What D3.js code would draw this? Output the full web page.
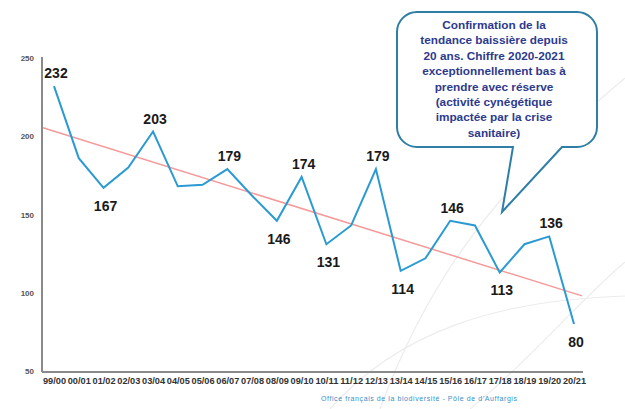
<!DOCTYPE html>
<html lang="fr">
<head>
  <meta charset="UTF-8">
  <title>Tendance</title>
  <style>
    html, body { margin: 0; padding: 0; background: #fff; }
    svg { display: block; font-family: "Liberation Sans", Arial, sans-serif; }
    .tick text { font-weight: bold; }
  </style>
</head>
<body>
  <div id="app"></div>
  <script src="https://cdn.jsdelivr.net/npm/d3@7"></script>
  <script>
    const seasons = ['99/00', '00/01', '01/02', '02/03', '03/04', '04/05', '05/06', '06/07', '07/08', '08/09', '09/10',
      '10/11', '11/12', '12/13', '13/14', '14/15', '15/16', '16/17', '17/18', '18/19', '19/20', '20/21']
    const values = [232, 186, 167, 180, 203, 168, 169, 179, 162, 146, 174, 131, 143, 179, 114, 122, 146, 143, 113, 131, 136, 80]
    // labelled points : 1 = above, -1 = below
    const labelled = [1, 0, -1, 0, 1, 0, 0, 1, 0, -1, 1, -1, 0, 1, -1, 0, 1, 0, -1, 0, 1, -1]
    const yTicks = [50, 100, 150, 200, 250]
    // trend line, value at first and last season
    const trendValues = [203.2, 99.6]
    const calloutLines = [
      'Confirmation de la',
      'tendance baissière depuis',
      '20 ans. Chiffre 2020-2021',
      'exceptionnellement bas  à',
      'prendre avec réserve',
      '(activité cynégétique',
      'impactée par la crise',
      'sanitaire)'
    ]
    const footer = 'Office français de la biodiversité  -  Pôle de d\u2019Auffargis'

    const W = 625, H = 409
    const plotLeft = 42, plotRight = 583, plotTop = 57, plotBottom = 372

    const svg = d3.select('#app').append('svg')
      .attr('width', W)
      .attr('height', H)

    // faint decorative arcs
    const deco = svg.append('g').attr('fill', 'none').attr('stroke', '#ececec').attr('stroke-width', 1.2)
    deco.append('path').attr('d', 'M380,409 C420,300 480,200 625,78')
    deco.append('path').attr('d', 'M330,409 C400,330 500,300 625,296')
    deco.append('path').attr('d', 'M470,409 C530,360 580,300 625,262')

    const x = d3.scaleLinear().domain([0, seasons.length - 1]).range([54, 574])
    const y = d3.scaleLinear().domain([50, 250]).range([371, 58])

    // y axis
    const yAxis = svg.append('g')
      .attr('transform', `translate(${plotLeft - 8},0)`)
      .call(d3.axisLeft(y).tickValues(yTicks).tickSize(0).tickPadding(0))
    yAxis.select('.domain').remove()
    yAxis.selectAll('text').attr('font-size', 8).attr('fill', '#555')
      .attr('font-family', '"Liberation Sans", Arial, sans-serif')

    // x axis labels
    const xAxis = svg.append('g')
      .attr('transform', `translate(0,${plotBottom + 4})`)
      .call(d3.axisBottom(x).tickValues(d3.range(seasons.length)).tickFormat(i => seasons[i]).tickSize(0).tickPadding(2))
    xAxis.select('.domain').remove()
    xAxis.selectAll('text').attr('font-size', 8.3).attr('fill', '#333')
      .attr('font-family', '"Liberation Sans", Arial, sans-serif')
      .attr('textLength', 23).attr('lengthAdjust', 'spacingAndGlyphs')

    // axis lines
    svg.append('line')
      .attr('x1', plotLeft).attr('x2', plotLeft).attr('y1', plotTop).attr('y2', plotBottom)
      .attr('stroke', '#8a8a8a').attr('stroke-width', 2)
    svg.append('line')
      .attr('x1', plotLeft).attr('x2', plotRight).attr('y1', plotBottom).attr('y2', plotBottom)
      .attr('stroke', '#8a8a8a').attr('stroke-width', 2)

    // trend line (linear, extended a little on both sides)
    const last = seasons.length - 1
    const slope = (trendValues[1] - trendValues[0]) / last
    const t0 = x.invert(plotLeft + 1), t1 = x.invert(plotRight - 1)
    svg.append('line')
      .attr('x1', x(t0)).attr('y1', y(trendValues[0] + slope * t0))
      .attr('x2', x(t1)).attr('y2', y(trendValues[0] + slope * t1))
      .attr('stroke', '#f59a9a').attr('stroke-width', 1.5)

    // main series
    svg.append('path')
      .datum(values)
      .attr('fill', 'none')
      .attr('stroke', '#2b9ad3')
      .attr('stroke-width', 2)
      .attr('stroke-linejoin', 'miter')
      .attr('d', d3.line().x((d, i) => x(i)).y(d => y(d)))

    // data labels
    svg.append('g').selectAll('text')
      .data(values.map((v, i) => ({ v, i, pos: labelled[i] })).filter(d => d.pos !== 0))
      .enter()
      .append('text')
      .attr('x', d => x(d.i) + 2)
      .attr('y', d => d.pos > 0 ? y(d.v) - 8 : y(d.v) + 23)
      .attr('text-anchor', 'middle')
      .attr('font-size', 14)
      .attr('font-weight', 'bold')
      .attr('fill', '#1a1a1a')
      .text(d => d.v)

    // callout bubble
    const bx0 = 397, bx1 = 597, by0 = 12, by1 = 147, r = 20
    const tail = [513, 562, 502, 212]
    const bubble = d3.path()
    bubble.moveTo(bx0 + r, by0)
    bubble.lineTo(bx1 - r, by0)
    bubble.arcTo(bx1, by0, bx1, by0 + r, r)
    bubble.lineTo(bx1, by1 - r)
    bubble.arcTo(bx1, by1, bx1 - r, by1, r)
    bubble.lineTo(tail[1], by1)
    bubble.lineTo(tail[2], tail[3])
    bubble.lineTo(tail[0], by1)
    bubble.lineTo(bx0 + r, by1)
    bubble.arcTo(bx0, by1, bx0, by1 - r, r)
    bubble.lineTo(bx0, by0 + r)
    bubble.arcTo(bx0, by0, bx0 + r, by0, r)
    bubble.closePath()
    svg.append('path')
      .attr('d', bubble.toString())
      .attr('fill', '#fff')
      .attr('stroke', '#2f7ea6')
      .attr('stroke-width', 2)

    svg.append('g').selectAll('text')
      .data(calloutLines)
      .enter()
      .append('text')
      .attr('x', 494)
      .attr('y', (d, i) => 29 + i * 15.4)
      .attr('text-anchor', 'middle')
      .attr('font-size', 11.8)
      .attr('font-weight', 'bold')
      .attr('fill', '#2d3a8e')
      .text(d => d)

    // source
    svg.append('text')
      .attr('x', 321)
      .attr('y', 401)
      .attr('font-size', 7)
      .attr('fill', '#3b8fc9')
      .attr('textLength', 196)
      .text(footer)
  </script>
</body>
</html>
